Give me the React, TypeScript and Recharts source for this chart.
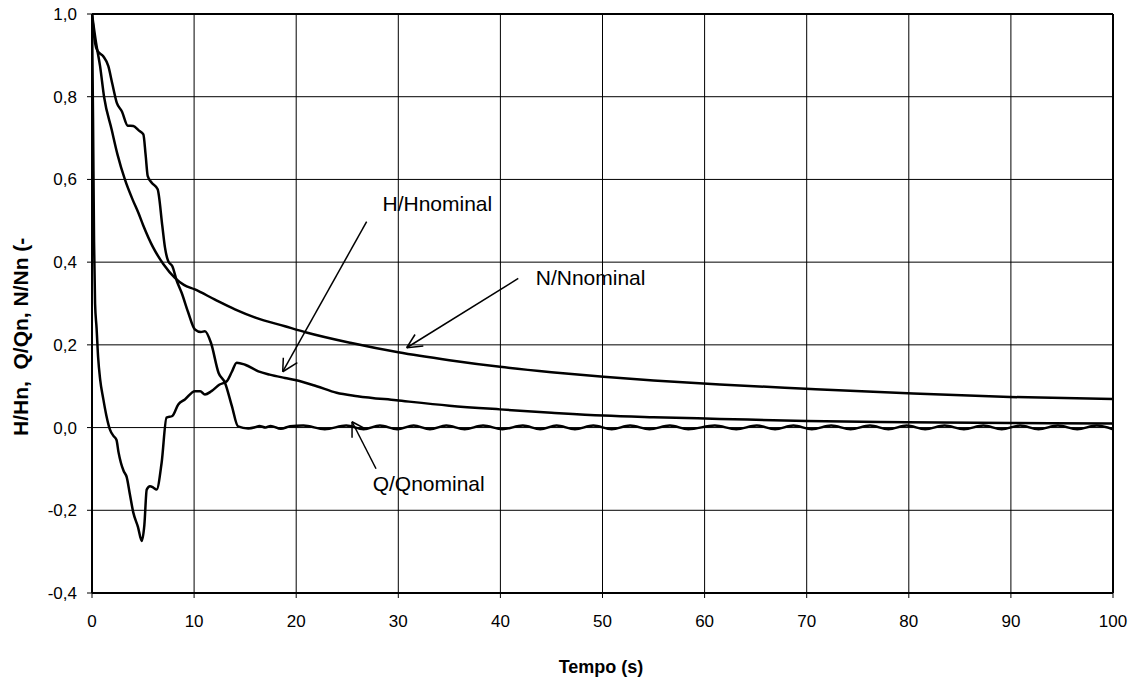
import { LineChart, Line, XAxis, YAxis, CartesianGrid, ReferenceLine, ReferenceDot, Label } from "recharts"

// H/Hnominal
const hTime = [0, 0.1, 0.2, 0.3, 0.45, 0.6, 0.8, 1.1, 1.4, 1.76, 2.1, 2.4, 2.6, 2.83, 3.1, 3.4, 3.7, 4.04, 4.5, 4.87, 5.13, 5.36, 5.68, 6.0, 6.33, 6.82, 7.3, 7.87, 8.45, 9.1, 10.08, 10.6, 11.06, 11.7, 12.5, 13.2, 13.7, 14.17, 15, 16.3, 17.4, 18.9, 19.9, 22, 23.96, 26, 29.8, 35, 39.95, 45, 50.08, 55, 61.5, 70, 79.8, 90, 100]
const hValue = [1.0, 0.75, 0.45, 0.3, 0.24, 0.17, 0.116, 0.07, 0.03, -0.005, -0.02, -0.03, -0.06, -0.085, -0.105, -0.12, -0.16, -0.205, -0.24, -0.274, -0.235, -0.15, -0.142, -0.145, -0.15, -0.085, 0.024, 0.028, 0.056, 0.068, 0.088, 0.088, 0.08, 0.088, 0.104, 0.112, 0.135, 0.157, 0.152, 0.136, 0.128, 0.12, 0.115, 0.1, 0.084, 0.076, 0.066, 0.053, 0.044, 0.036, 0.029, 0.025, 0.021, 0.016, 0.013, 0.011, 0.01]

// N/Nnominal
const nTime = [0, 0.4, 0.79, 1.18, 1.93, 2.5, 3.22, 4.0, 4.53, 5.0, 6.0, 7.0, 8.12, 9, 10.08, 12, 14, 16, 18.9, 21, 25.3, 30, 35, 39.96, 45, 50.1, 55, 61.5, 69.9, 79.9, 89.9, 100]
const nValue = [1.0, 0.93, 0.874, 0.8, 0.72, 0.66, 0.6, 0.55, 0.52, 0.49, 0.435, 0.395, 0.362, 0.345, 0.334, 0.31, 0.286, 0.266, 0.245, 0.23, 0.205, 0.182, 0.163, 0.147, 0.134, 0.123, 0.114, 0.104, 0.094, 0.083, 0.074, 0.069]

// Q/Qnominal
const qTime = [0, 0.3, 0.56, 1.1, 1.6, 2.0, 2.43, 2.92, 3.5, 4.05, 4.6, 5.03, 5.25, 5.46, 5.85, 6.43, 6.89, 7.15, 7.47, 7.87, 8.3, 8.78, 9.4, 10.08, 10.67, 11.06, 11.65, 12.4, 13.03, 13.7, 14.3, 15.3, 16.0, 16.4, 17, 17.5, 18.5, 19.4, 20.7, 22.8, 24.9, 26.6, 28.2, 29.9, 31.5, 33.1, 34.7, 36.5, 38.3, 40.2, 42.2, 43.9, 45.5, 47.3, 49.1, 50.9, 52.7, 54.6, 56.6, 58.4, 61.0, 63.1, 65.1, 66.9, 68.7, 70.5, 72.4, 74.3, 76.2, 78.0, 79.8, 81.6, 83.5, 85.4, 87.3, 89.1, 90.9, 92.7, 94.6, 96.5, 98.4, 100]
const qValue = [1.0, 0.93, 0.91, 0.898, 0.874, 0.83, 0.785, 0.765, 0.73, 0.729, 0.718, 0.709, 0.66, 0.608, 0.592, 0.576, 0.487, 0.435, 0.402, 0.39, 0.355, 0.326, 0.28, 0.237, 0.231, 0.233, 0.205, 0.132, 0.108, 0.052, 0.003, -0.002, 0.001, 0.004, 0.0, 0.004, -0.003, 0.003, 0.005, -0.004, 0.005, -0.004, 0.005, -0.004, 0.005, -0.004, 0.005, -0.004, 0.005, -0.004, 0.005, -0.004, 0.005, -0.004, 0.005, -0.004, 0.005, -0.004, 0.005, -0.004, 0.005, -0.004, 0.005, -0.004, 0.005, -0.004, 0.005, -0.004, 0.005, -0.004, 0.005, -0.004, 0.005, -0.004, 0.005, -0.004, 0.005, -0.004, 0.005, -0.004, 0.005, -0.004]

const xTicks = [0, 10, 20, 30, 40, 50, 60, 70, 80, 90, 100]
const yTicks = [-0.4, -0.2, 0, 0.2, 0.4, 0.6, 0.8, 1.0]

const toPoints = (ts: number[], vs: number[]) => ts.map((t, i) => ({ t, v: vs[i] }))

const hData = toPoints(hTime, hValue)
const nData = toPoints(nTime, nValue)
const qData = toPoints(qTime, qValue)

// arrow annotations, in data coordinates
const arrows = [
  { tail: [26.9, 0.498], tip: [18.68, 0.135], h1: [18.74, 0.169], h2: [20.11, 0.157] },
  { tail: [41.75, 0.3605], tip: [30.82, 0.193], h1: [32.45, 0.197], h2: [31.64, 0.225] },
  { tail: [27.82, -0.0996], tip: [25.47, 0.014], h1: [25.47, -0.0247], h2: [26.89, -0.0046] },
]
const notes = [
  { text: "H/Hnominal", t: 28.45, v: 0.523 },
  { text: "N/Nnominal", t: 43.46, v: 0.3436 },
  { text: "Q/Qnominal", t: 27.49, v: -0.154 },
]

const font = "'Liberation Sans', Arial, sans-serif"
const fmt = (v: number) => (Math.abs(v) < 1e-9 ? 0 : v).toFixed(1).replace(".", ",")

export default function App() {
  return (
    <div style={{ position: "absolute", left: 0, top: 0, background: "#fff" }}>
      <LineChart width={1136} height={684} margin={{ top: 14, right: 23, bottom: 50, left: 12 }}>
        <CartesianGrid stroke="#000" strokeWidth={1} />
        <XAxis
          dataKey="t"
          type="number"
          domain={[0, 100]}
          ticks={xTicks}
          allowDataOverflow
          height={41}
          tickSize={5}
          tickMargin={17}
          stroke="#000"
          axisLine={{ stroke: "#000", strokeWidth: 2 }}
          tickLine={{ stroke: "#000" }}
          tick={{ fill: "#000", fontSize: 17, fontFamily: font }}
        >
          <Label
            content={() => (
              <text x={601} y={673} textAnchor="middle" fontSize={18} fontWeight="bold" fontFamily={font} fill="#000">
                Tempo (s)
              </text>
            )}
          />
        </XAxis>
        <YAxis
          type="number"
          domain={[-0.4, 1.0]}
          ticks={yTicks}
          allowDataOverflow
          width={80}
          tickSize={5}
          tickMargin={10}
          tickFormatter={fmt}
          axisLine={{ stroke: "#000", strokeWidth: 2 }}
          tickLine={{ stroke: "#000" }}
          tick={{ fill: "#000", fontSize: 17, fontFamily: font }}
        >
          <Label
            content={() => (
              <text
                x={28}
                y={436}
                transform="rotate(-90, 28, 436)"
                fontSize={21}
                fontWeight="bold"
                fontFamily={font}
                fill="#000"
                style={{ whiteSpace: "pre" }}
              >
                {"H/Hn,  Q/Qn, N/Nn (-"}
              </text>
            )}
          />
        </YAxis>
        <ReferenceLine y={1.0} stroke="#000" strokeWidth={2} />
        <ReferenceLine x={100} stroke="#000" strokeWidth={2} />
        <Line data={nData} dataKey="v" type="monotone" stroke="#000" strokeWidth={2.5} dot={false} isAnimationActive={false} />
        <Line data={hData} dataKey="v" type="monotone" stroke="#000" strokeWidth={2.5} dot={false} isAnimationActive={false} />
        <Line data={qData} dataKey="v" type="monotone" stroke="#000" strokeWidth={2.5} dot={false} isAnimationActive={false} />
        {arrows.map((a, i) => (
          <ReferenceLine key={"s" + i} segment={[{ x: a.tail[0], y: a.tail[1] }, { x: a.tip[0], y: a.tip[1] }]} stroke="#000" strokeWidth={1.5} ifOverflow="visible" />
        ))}
        {arrows.map((a, i) => (
          <ReferenceLine key={"a" + i} segment={[{ x: a.tip[0], y: a.tip[1] }, { x: a.h1[0], y: a.h1[1] }]} stroke="#000" strokeWidth={1.5} ifOverflow="visible" />
        ))}
        {arrows.map((a, i) => (
          <ReferenceLine key={"b" + i} segment={[{ x: a.tip[0], y: a.tip[1] }, { x: a.h2[0], y: a.h2[1] }]} stroke="#000" strokeWidth={1.5} ifOverflow="visible" />
        ))}
        {notes.map((n, i) => (
          <ReferenceDot
            key={"n" + i}
            x={n.t}
            y={n.v}
            r={0}
            ifOverflow="visible"
            shape={(p: any) => (
              <text x={p.cx} y={p.cy} fontSize={21} fontFamily={font} fill="#000">
                {n.text}
              </text>
            )}
          />
        ))}
      </LineChart>
    </div>
  )
}
